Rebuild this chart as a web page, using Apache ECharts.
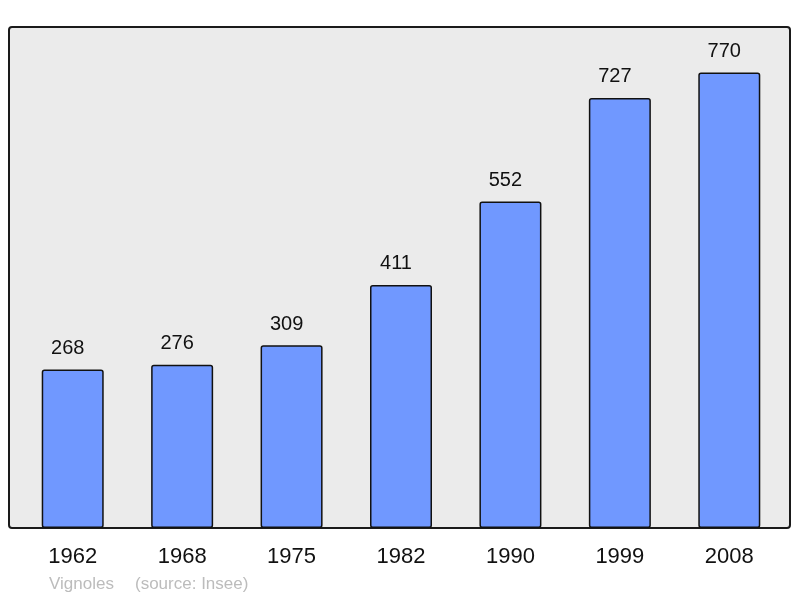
<!DOCTYPE html>
<html><head><meta charset="utf-8">
<script src="https://cdn.jsdelivr.net/npm/echarts@6/dist/echarts.min.js"></script>
<style>html,body{margin:0;padding:0;background:#fff}#c{width:800px;height:598px}</style>
</head><body><div id="c"></div>
<script>
var years = ['1962','1968','1975','1982','1990','1999','2008'];
var population = [268, 276, 309, 411, 552, 727, 770];
var footerName = 'Vignoles';
var footerSource = '(source: Insee)';

var chart = echarts.init(document.getElementById('c'), null, {renderer:'canvas'});
var ff = '"Liberation Sans", Arial, sans-serif';
chart.setOption({
  animation: false,
  backgroundColor: '#ffffff',
  grid: {left: 18, right: 16, top: 27, bottom: 70},
  graphic: [
    {type:'rect', z:-10, shape:{x:9, y:27, width:781, height:501, r:3},
     style:{fill:'#ebebeb', stroke:'#1a1a1a', lineWidth:2}},
    {type:'text', left:49, top:576, style:{text: footerName, fill:'#bcbcbc', font:'17px ' + ff}},
    {type:'text', left:135, top:576, style:{text: footerSource, fill:'#bcbcbc', font:'17px ' + ff}}
  ],
  xAxis: {
    type:'category', data: years,
    axisLine:{show:false}, axisTick:{show:false},
    axisLabel:{margin:18, color:'#111', fontSize:22, fontFamily:ff}
  },
  yAxis: {type:'value', min:0, max:847, show:false, splitLine:{show:false}},
  series: [{
    type:'bar', data: population, barWidth: 62,
    itemStyle:{color:'#7098ff', borderColor:'#111', borderWidth:1.5, borderRadius:2},
    label:{show:true, position:'top', distance:11, offset:[-5, 0], color:'#111', fontSize:20,
      fontFamily:ff}
  }]
});
</script></body></html>
